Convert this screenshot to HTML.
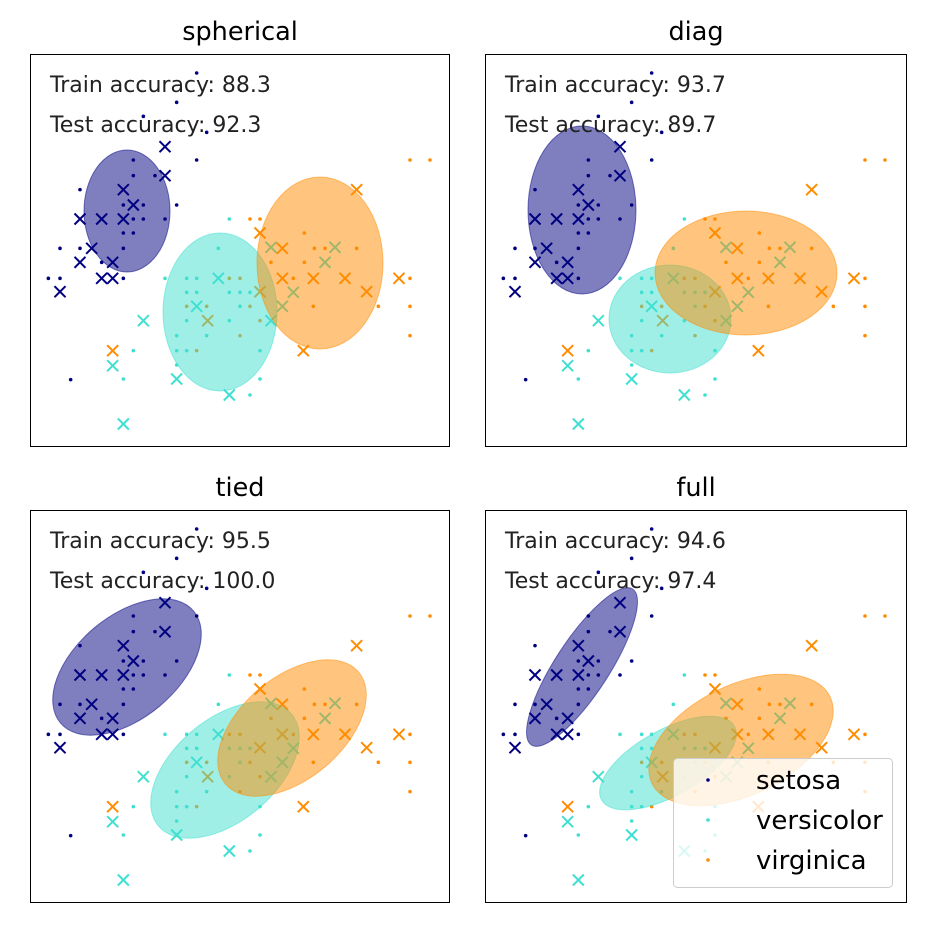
<!DOCTYPE html>
<html><head><meta charset="utf-8"><style>
html,body{margin:0;padding:0;background:#fff;width:930px;height:926px;overflow:hidden}
text{font-family:"DejaVu Sans","Liberation Sans",sans-serif}
</style></head><body>
<svg id="s" width="930" height="926" xmlns="http://www.w3.org/2000/svg">
<defs><g id="pts"></g></defs>
</svg>
<script>
const NS="http://www.w3.org/2000/svg";
const S=document.getElementById('s'), P=document.getElementById('pts');
const C={b:'#000080',c:'#40e0d0',o:'#ff8c00'};
function el(t,a,par){const e=document.createElementNS(NS,t);for(const k in a)e.setAttribute(k,a[k]);(par||S).appendChild(e);return e;}
const dots={
b:[[500,57],[440,145],[340,187],[530,235],[500,318],[310,318],[310,365],[375,365],[150,407],[440,453],[340,453],[280,453],[310,495],[340,495],[405,495],[280,537],[310,537],[90,583],[150,583],[280,583],[215,625],[55,673],[90,673],[280,673],[122,977]],
c:[[598,495],[565,583],[405,673],[470,673],[500,673],[470,715],[500,715],[598,715],[630,715],[660,715],[630,757],[598,800],[470,800],[440,845],[530,845],[440,890],[470,890],[690,890],[440,933],[280,975],[690,975],[660,1023],[310,890]],
o:[[660,495],[690,495],[1140,318],[1200,318],[823,537],[853,583],[885,583],[980,583],[723,625],[823,625],[790,673],[1140,673],[660,757],[1045,757],[1140,757],[850,757],[690,800],[630,845],[1140,845],[598,673],[630,673],[500,890],[470,757],[530,757]]};
const xs={
b:[[405,278],[405,365],[280,407],[310,453],[150,495],[215,495],[280,495],[185,583],[150,625],[248,625],[215,673],[248,673],[90,713]],
c:[[565,673],[500,757],[340,800],[248,935],[440,975],[598,1023],[280,1110],[723,580],[885,625],[915,580],[790,715],[757,757],[723,800]],
o:[[980,407],[690,537],[757,583],[757,673],[850,673],[945,673],[1107,673],[1010,713],[248,890],[820,890],[533,800],[690,713]]};
for(const k in dots)for(const [x,y] of dots[k])el('circle',{cx:x/3,cy:y/3,r:1.8,fill:C[k]},P);
for(const k in xs)for(const [x,y] of xs[k]){const X=x/3,Y=y/3,d=5.5;
 el('path',{d:`M${X-d} ${Y-d}L${X+d} ${Y+d}M${X-d} ${Y+d}L${X+d} ${Y-d}`,stroke:C[k],'stroke-width':2,fill:'none'},P);}
const panels=[
{x:30,y:54,t:'spherical',tr:'88.3',te:'92.3',e:[['b',97,157,43,61,0],['c',190,258,57,79,0],['o',290,209,63,86,0]]},
{x:485,y:54,t:'diag',tr:'93.7',te:'89.7',e:[['b',97,156,54,84,0],['c',185,265,61,54,0],['o',261,219,91,62,0]]},
{x:30,y:510,t:'tied',tr:'95.5',te:'100.0',e:[['b',97,157,87,51,-40],['c',195,260,87,51,-40],['o',262,218,87,51,-40]]},
{x:485,y:510,t:'full',tr:'94.6',te:'97.4',e:[['b',97,157,93,27,-57],['c',183,253,76,33,-29],['o',256,230,99,55,-26]]}];
for(const p of panels){
 const w=p.x<400?420:422;
 const g=el('g',{transform:`translate(${p.x},${p.y})`});
 el('use',{href:'#pts'},g);
 for(const [k,cx,cy,rx,ry,a] of p.e)
  el('ellipse',{cx,cy,rx,ry,fill:C[k],'fill-opacity':0.5,stroke:C[k],'stroke-opacity':0.5,'stroke-width':1,transform:`rotate(${a} ${cx} ${cy})`},g);
 el('rect',{x:0.5,y:0.5,width:w-1,height:392,fill:'none',stroke:'#000','stroke-width':1},g);
 let t=el('text',{x:20,y:38,'font-size':22,fill:'#222'},g);t.textContent='Train accuracy: '+p.tr;
 t=el('text',{x:20,y:78,'font-size':22,fill:'#222'},g);t.textContent='Test accuracy: '+p.te;
 t=el('text',{x:w/2,y:-14,'font-size':25.5,'text-anchor':'middle',fill:'#000'},g);t.textContent=p.t;
}
const L=el('g',{transform:'translate(673,758)'});
el('rect',{x:0.5,y:0.5,width:219,height:129,rx:4,fill:'#fff','fill-opacity':0.8,stroke:'#ccc'},L);
[['b','setosa',22],['c','versicolor',62],['o','virginica',102]].forEach(([k,n,y])=>{
 el('circle',{cx:35,cy:y,r:1.8,fill:C[k]},L);
 const t=el('text',{x:83,y:y+9,'font-size':26,fill:'#000'},L);t.textContent=n;});
</script>
</body></html>
